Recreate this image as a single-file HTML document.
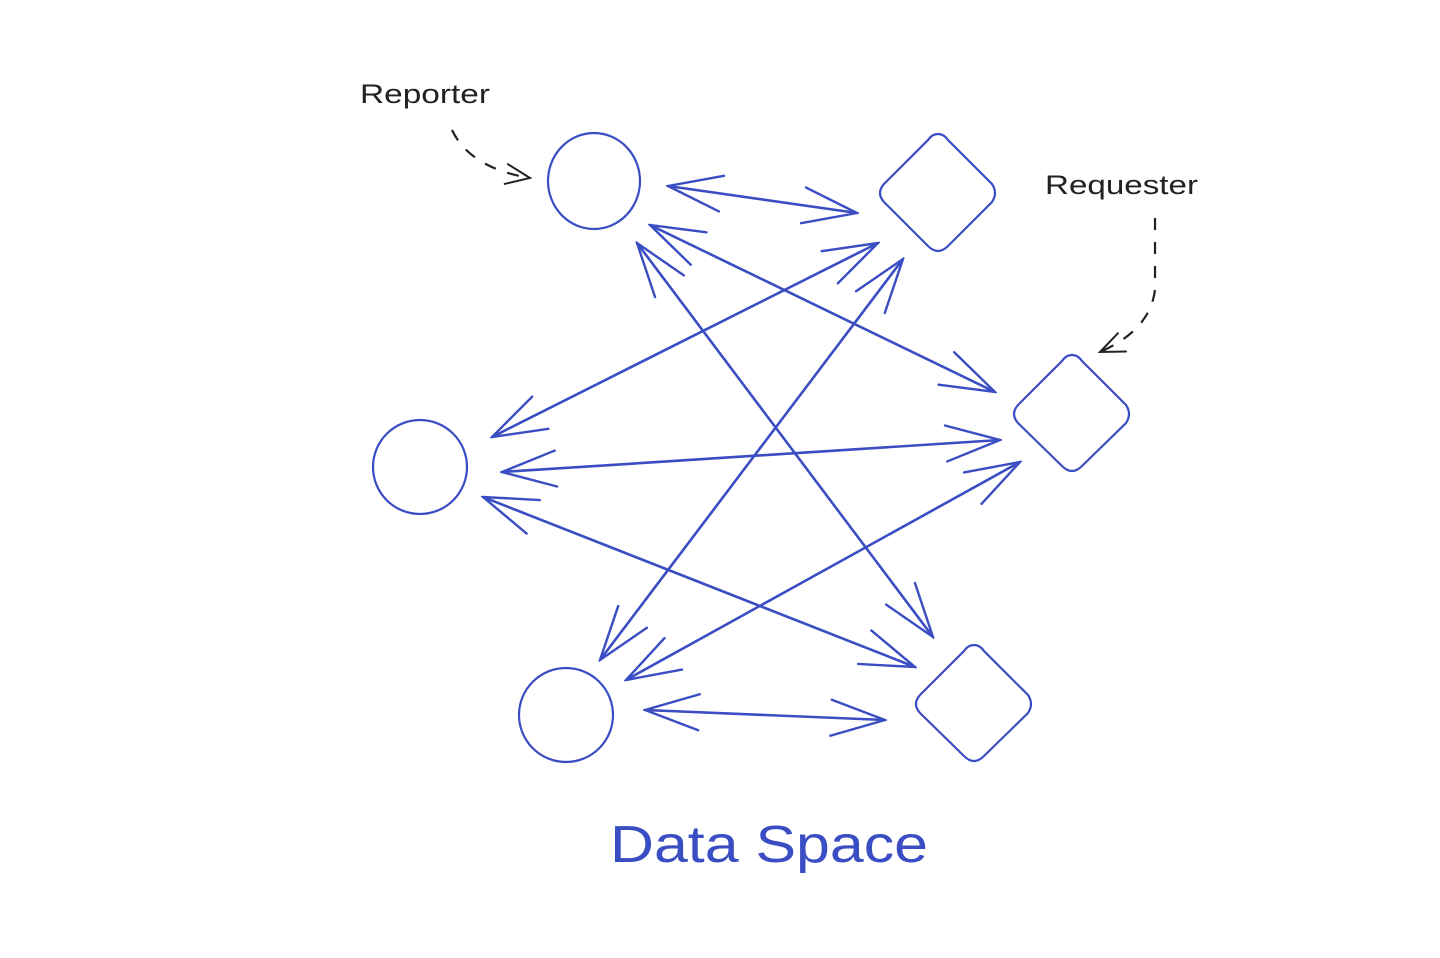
<!DOCTYPE html>
<html><head><meta charset="utf-8"><style>
html,body{margin:0;padding:0;background:#fff;}
svg{display:block}
</style></head><body>
<svg width="1440" height="958" viewBox="0 0 1440 958" xmlns="http://www.w3.org/2000/svg">
<defs>
<marker id="a" viewBox="0 0 60 40" refX="58" refY="20" markerWidth="60" markerHeight="40" markerUnits="userSpaceOnUse" orient="auto-start-reverse">
<path d="M4 2 L58 20 L4 38" fill="none" stroke="#3a4dc2" stroke-width="2.4" stroke-linecap="round"/>
</marker>
<marker id="k" viewBox="0 0 30 24" refX="28" refY="12" markerWidth="30" markerHeight="24" markerUnits="userSpaceOnUse" orient="auto">
<path d="M4 2 L28 12 L4 22" fill="none" stroke="#222" stroke-width="2" stroke-linecap="round"/>
</marker>
</defs>
<g fill="none" stroke="#3a4dc2" stroke-width="2.2">
<ellipse cx="594" cy="181" rx="46" ry="48"/>
<ellipse cx="420" cy="467" rx="47" ry="47"/>
<ellipse cx="566" cy="715" rx="47" ry="47"/>
<path d="M938 134 Q944 134 948 140 L992 184 Q998 193 992 202 L948 246 Q938 256 928 246 L884 202 Q876 193 884 184 L928 140 Q932 134 938 134Z"/>
<path d="M1072 355 Q1078 355 1082 361 L1126 405 Q1132 414 1126 423 L1082 466 Q1072 476 1062 466 L1018 423 Q1010 414 1018 405 L1062 361 Q1066 355 1072 355Z"/>
<path d="M974 645 Q980 645 984 651 L1028 695 Q1034 704 1028 713 L984 756 Q974 766 964 756 L920 713 Q912 704 920 695 L964 651 Q968 645 974 645Z"/>
<g stroke-width="2.6" marker-start="url(#a)" marker-end="url(#a)">
<line x1="668" y1="186" x2="857" y2="213"/>
<line x1="650" y1="225" x2="995" y2="392"/>
<line x1="637" y1="243" x2="933" y2="637"/>
<line x1="878" y1="243" x2="492" y2="437"/>
<line x1="903" y1="259" x2="600" y2="660"/>
<line x1="502" y1="472" x2="1000" y2="440"/>
<line x1="483" y1="497" x2="915" y2="667"/>
<line x1="1020" y1="462" x2="626" y2="680"/>
<line x1="645" y1="710" x2="885" y2="720"/>
</g>
</g>
<g fill="none" stroke="#222" stroke-width="2.2" stroke-dasharray="12 12">
<path d="M452 130 Q470 168 530 178" marker-end="url(#k)"/>
<path d="M1155 218 L1155 290 Q1150 330 1100 352" marker-end="url(#k)"/>
</g>
<text x="360" y="103" font-family="Liberation Sans, sans-serif" font-size="27" fill="#222" textLength="130" lengthAdjust="spacingAndGlyphs">Reporter</text>
<text x="1045" y="194" font-family="Liberation Sans, sans-serif" font-size="27" fill="#222" textLength="153" lengthAdjust="spacingAndGlyphs">Requester</text>
<text x="610" y="862" font-family="Liberation Sans, sans-serif" font-size="52" fill="#3a4dc2" textLength="318" lengthAdjust="spacingAndGlyphs">Data Space</text>
</svg>
</body></html>
